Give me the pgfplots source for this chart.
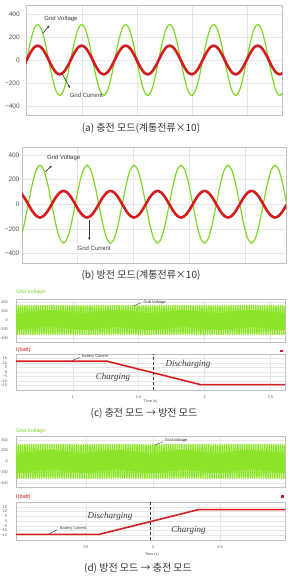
\documentclass[border=0pt]{standalone}
\usepackage{fontspec}
\setmainfont{Liberation Sans}
\newfontfamily\krfont{Noto Sans CJK KR}
\newfontfamily\timesfont{Liberation Serif}
\usepackage{pgfplots}
\pgfplotsset{compat=1.18}
\usepackage{pgfplotstable}
\usetikzlibrary{arrows.meta}

\definecolor{vgreen}{RGB}{126,214,38}
\definecolor{bandgreen}{RGB}{140,228,40}
\definecolor{ired}{RGB}{214,28,30}
\definecolor{tickgray}{RGB}{85,85,85}
\definecolor{annot}{RGB}{55,55,55}

\newcommand{\fs}[1]{\fontsize{#1}{#1}\selectfont}

% (a) charging mode: x in degrees, voltage V, current I (x10)
\pgfplotstableread[row sep=\\]{
x V I\\
-30 -155 -62.5\\
0 0 0\\ 30 155 62.5\\ 60 268.5 108.3\\ 90 310 125\\ 120 268.5 108.3\\ 150 155 62.5\\
180 0 0\\ 210 -155 -62.5\\ 240 -268.5 -108.3\\ 270 -310 -125\\ 300 -268.5 -108.3\\ 330 -155 -62.5\\
360 0 0\\ 390 155 62.5\\ 420 268.5 108.3\\ 450 310 125\\ 480 268.5 108.3\\ 510 155 62.5\\
540 0 0\\ 570 -155 -62.5\\ 600 -268.5 -108.3\\ 630 -310 -125\\ 660 -268.5 -108.3\\ 690 -155 -62.5\\
720 0 0\\ 750 155 62.5\\ 780 268.5 108.3\\ 810 310 125\\ 840 268.5 108.3\\ 870 155 62.5\\
900 0 0\\ 930 -155 -62.5\\ 960 -268.5 -108.3\\ 990 -310 -125\\ 1020 -268.5 -108.3\\ 1050 -155 -62.5\\
1080 0 0\\ 1110 155 62.5\\ 1140 268.5 108.3\\ 1170 310 125\\ 1200 268.5 108.3\\ 1230 155 62.5\\
1260 0 0\\ 1290 -155 -62.5\\ 1320 -268.5 -108.3\\ 1350 -310 -125\\ 1380 -268.5 -108.3\\ 1410 -155 -62.5\\
1440 0 0\\ 1470 155 62.5\\ 1500 268.5 108.3\\ 1530 310 125\\ 1560 268.5 108.3\\ 1590 155 62.5\\
1620 0 0\\ 1650 -155 -62.5\\ 1680 -268.5 -108.3\\ 1710 -310 -125\\ 1740 -268.5 -108.3\\ 1770 -155 -62.5\\
1800 0 0\\ 1830 155 62.5\\ 1860 268.5 108.3\\ 1890 310 125\\ 1920 268.5 108.3\\ 1950 155 62.5\\
1980 0 0\\ 2010 -155 -62.5\\ 2040 -268.5 -108.3\\ 2070 -310 -125\\ 2100 -268.5 -108.3\\ 2130 -155 -62.5\\
}\tabA

% (b) discharging mode
\pgfplotstableread[row sep=\\]{
x V I\\
-60 -275.4 93.5\\ -30 -159 54\\
0 0 0\\ 30 159 -54\\ 60 275.4 -93.5\\ 90 318 -108\\ 120 275.4 -93.5\\ 150 159 -54\\
180 0 0\\ 210 -159 54\\ 240 -275.4 93.5\\ 270 -318 108\\ 300 -275.4 93.5\\ 330 -159 54\\
360 0 0\\ 390 159 -54\\ 420 275.4 -93.5\\ 450 318 -108\\ 480 275.4 -93.5\\ 510 159 -54\\
540 0 0\\ 570 -159 54\\ 600 -275.4 93.5\\ 630 -318 108\\ 660 -275.4 93.5\\ 690 -159 54\\
720 0 0\\ 750 159 -54\\ 780 275.4 -93.5\\ 810 318 -108\\ 840 275.4 -93.5\\ 870 159 -54\\
900 0 0\\ 930 -159 54\\ 960 -275.4 93.5\\ 990 -318 108\\ 1020 -275.4 93.5\\ 1050 -159 54\\
1080 0 0\\ 1110 159 -54\\ 1140 275.4 -93.5\\ 1170 318 -108\\ 1200 275.4 -93.5\\ 1230 159 -54\\
1260 0 0\\ 1290 -159 54\\ 1320 -275.4 93.5\\ 1350 -318 108\\ 1380 -275.4 93.5\\ 1410 -159 54\\
1440 0 0\\ 1470 159 -54\\ 1500 275.4 -93.5\\ 1530 318 -108\\ 1560 275.4 -93.5\\ 1590 159 -54\\
1620 0 0\\ 1650 -159 54\\ 1680 -275.4 93.5\\ 1710 -318 108\\ 1740 -275.4 93.5\\ 1770 -159 54\\
1800 0 0\\ 1830 159 -54\\ 1860 275.4 -93.5\\ 1890 318 -108\\ 1920 275.4 -93.5\\ 1950 159 -54\\
1980 0 0\\
}\tabB

% battery currents
\pgfplotstableread[row sep=\\]{
t I\\ 0.57 12\\ 1.26 12\\ 1.97 -14\\ 2.61 -14\\
}\tabC
\pgfplotstableread[row sep=\\]{
t I\\ 1.978 -14\\ 2.60 -14\\ 3.34 12\\ 3.985 12\\
}\tabD

% grid voltage over the transition (sample index, volts at each half-cycle peak)
\pgfplotstableread[row sep=\\]{
i v\\
0 316\\ 1 -316\\ 2 316\\ 3 -316\\ 4 316\\ 5 -316\\ 6 316\\ 7 -316\\ 8 316\\ 9 -316\\
10 316\\ 11 -316\\ 12 316\\ 13 -316\\ 14 316\\ 15 -316\\ 16 316\\ 17 -316\\ 18 316\\ 19 -316\\
20 316\\ 21 -316\\ 22 316\\ 23 -316\\ 24 316\\ 25 -316\\ 26 316\\ 27 -316\\ 28 316\\ 29 -316\\
30 316\\ 31 -316\\ 32 316\\ 33 -316\\ 34 316\\ 35 -316\\ 36 316\\ 37 -316\\ 38 316\\ 39 -316\\
40 316\\ 41 -316\\ 42 316\\ 43 -316\\ 44 316\\ 45 -316\\ 46 316\\ 47 -316\\ 48 316\\ 49 -316\\
50 316\\ 51 -316\\ 52 316\\ 53 -316\\ 54 316\\ 55 -316\\ 56 316\\ 57 -316\\ 58 316\\ 59 -316\\
60 316\\ 61 -316\\ 62 316\\ 63 -316\\ 64 316\\ 65 -316\\ 66 316\\ 67 -316\\ 68 316\\ 69 -316\\
70 316\\ 71 -316\\ 72 316\\ 73 -316\\ 74 316\\ 75 -316\\ 76 316\\ 77 -316\\ 78 316\\ 79 -316\\
80 316\\ 81 -316\\ 82 316\\ 83 -316\\ 84 316\\ 85 -316\\ 86 316\\ 87 -316\\ 88 316\\ 89 -316\\
90 316\\ 91 -316\\ 92 316\\ 93 -316\\ 94 316\\ 95 -316\\ 96 316\\ 97 -316\\ 98 316\\ 99 -316\\
100 316\\ 101 -316\\ 102 316\\ 103 -316\\ 104 316\\ 105 -316\\ 106 316\\ 107 -316\\ 108 316\\ 109 -316\\
110 316\\ 111 -316\\ 112 316\\ 113 -316\\ 114 316\\ 115 -316\\ 116 316\\ 117 -316\\ 118 316\\ 119 -316\\
120 316\\ 121 -316\\ 122 316\\ 123 -316\\ 124 316\\ 125 -316\\ 126 316\\ 127 -316\\ 128 316\\ 129 -316\\
130 316\\ 131 -316\\ 132 316\\ 133 -316\\ 134 316\\ 135 -316\\ 136 316\\ 137 -316\\ 138 316\\ 139 -316\\
140 316\\ 141 -316\\ 142 316\\ 143 -316\\ 144 316\\ 145 -316\\ 146 316\\ 147 -316\\ 148 316\\ 149 -316\\
150 316\\ 151 -316\\ 152 316\\ 153 -316\\ 154 316\\ 155 -316\\ 156 316\\ 157 -316\\ 158 316\\ 159 -316\\
160 316\\ 161 -316\\ 162 316\\ 163 -316\\ 164 316\\ 165 -316\\ 166 316\\ 167 -316\\ 168 316\\ 169 -316\\
170 316\\ 171 -316\\ 172 316\\ 173 -316\\ 174 316\\ 175 -316\\ 176 316\\ 177 -316\\ 178 316\\ 179 -316\\
180 316\\ 181 -316\\ 182 316\\ 183 -316\\ 184 316\\ 185 -316\\ 186 316\\ 187 -316\\ 188 316\\ 189 -316\\
190 316\\ 191 -316\\ 192 316\\ 193 -316\\ 194 316\\ 195 -316\\ 196 316\\ 197 -316\\ 198 316\\ 199 -316\\
200 316\\ 201 -316\\ 202 316\\ 203 -316\\ 204 316\\ 205 -316\\ 206 316\\ 207 -316\\ 208 316\\ 209 -316\\
210 316\\ 211 -316\\ 212 316\\ 213 -316\\ 214 316\\ 215 -316\\ 216 316\\ 217 -316\\ 218 316\\ 219 -316\\
220 316\\ 221 -316\\ 222 316\\ 223 -316\\ 224 316\\ 225 -316\\ 226 316\\ 227 -316\\ 228 316\\ 229 -316\\
230 316\\ 231 -316\\ 232 316\\ 233 -316\\ 234 316\\ 235 -316\\ 236 316\\ 237 -316\\ 238 316\\ 239 -316\\
240 316\\
}\tabZ

\pgfplotsset{
  base/.style={scale only axis, anchor=north west, clip=true,
    axis line style={gray!50, line width=0.4pt},
    grid=major, major grid style={gray!20, line width=0.3pt},
    tick style={draw=none},
    tick label style={text=tickgray}},
  big/.style={base, yticklabel style={font=\fs{6.5}},
    ytick={-400,-200,0,200,400}, yticklabels={−400,−200,0,200,400}, xticklabels={}},
  smallv/.style={base, width=269pt, yticklabel style={font=\fs{3.8}, xshift=-4.7pt},
    ytick={-400,-200,0,200,400}, yticklabels={−400,−200,0,200,400},
    xticklabels={}, xmin=0, xmax=240},
  smallb/.style={base, width=269pt, yticklabel style={font=\fs{3.8}, xshift=-5.5pt},
    xticklabel style={font=\fs{3.8}, yshift=-2.5pt},
    ytick={-15,-10,...,15}, yticklabels={−15,−10,−5,0,5,10,15}, ymin=-20, ymax=20},
}

\begin{document}
\begin{tikzpicture}
\useasboundingbox (0,0) rectangle (287pt,-576pt);

% ---------- (a) ----------
\begin{axis}[big, at={(26pt,-5pt)}, width=256pt, height=110pt,
  xmin=-5.7, xmax=2088.8, ymin=-478, ymax=478,
  xtick={450,900,1350,1800}, yticklabel style={xshift=-2.8pt}]
\addplot[vgreen, line width=1.2pt, smooth] table[x=x,y=V]{\tabA};
\addplot[ired, line width=2.6pt, smooth] table[x=x,y=I]{\tabA};
\end{axis}
\node[font=\fs{6}, text=annot] at (61pt,-19pt) {Grid Voltage};
\draw[annot, line width=0.7pt, -{Stealth[length=2.6pt,width=2.4pt]}] (43pt,-33pt) -- (49.5pt,-25.5pt);
\node[font=\fs{6}, text=annot] at (86.3pt,-95pt) {Grid Current};
\draw[annot, line width=0.7pt, -{Stealth[length=2.6pt,width=2.4pt]}] (62pt,-73.5pt) -- (70pt,-88pt);
\node[font=\krfont\fs{10}, text=black!80] at (141pt,-128pt) {(a) 충전 모드(계통전류×10)};

% ---------- (b) ----------
\begin{axis}[big, at={(22pt,-146.7pt)}, width=264pt, height=116pt,
  xmin=-47.9, xmax=1974, ymin=-476, ymax=468,
  xtick={376,804,1232,1660}, yticklabel style={xshift=0.9pt}]
\addplot[vgreen, line width=1.2pt, smooth] table[x=x,y=V]{\tabB};
\addplot[ired, line width=2.6pt, smooth] table[x=x,y=I]{\tabB};
\end{axis}
\node[font=\fs{6}, text=annot] at (63.7pt,-158.3pt) {Grid Voltage};
\draw[annot, line width=0.7pt, -{Stealth[length=2.6pt,width=2.4pt]}] (45.3pt,-171.7pt) -- (51.7pt,-165.7pt);
\node[font=\fs{6}, text=annot] at (94.2pt,-248.3pt) {Grid Current};
\draw[annot, line width=0.7pt, -{Stealth[length=2.6pt,width=2.4pt]}] (89.3pt,-220pt) -- (89.3pt,-240pt);
\node[font=\krfont\fs{10}, text=black!80] at (141pt,-275pt) {(b) 방전 모드(계통전류×10)};

% ---------- (c) ----------
\node[font=\fs{5.3}, text=vgreen, anchor=west, inner sep=0pt] at (16pt,-292.3pt) {Grid Voltage};
\begin{axis}[smallv, at={(16pt,-299pt)}, height=42.7pt, ymin=-474, ymax=459,
  xtick={50.6,109.4,168.2,227.1}]
\addplot[bandgreen, line width=1.4pt, line join=round] table[x=i,y=v]{\tabZ};
\end{axis}
\node[font=\fs{4}, text=annot, anchor=west, inner sep=0pt] at (143.3pt,-302.7pt) {Grid Voltage};
\draw[annot, line width=0.4pt] (133.3pt,-306pt) -- (141pt,-302.7pt);
\node[font=\fs{5.5}, text=ired, anchor=west, inner sep=0pt] at (16pt,-349.7pt) {I(batt)};
\fill[ired] (280.4pt,-349.7pt) rectangle (283pt,-352.3pt);
\begin{axis}[smallb, at={(16pt,-354pt)}, height=36pt, xmin=0.57, xmax=2.61,
  xtick={1,1.5,2,2.5}, xticklabels={1,1.5,2,2.5}]
\addplot[ired, line width=1.6pt] table[x=t,y=I]{\tabC};
\addplot[annot, densely dashed, line width=0.5pt] coordinates {(1.61,-20) (1.61,20)};
\end{axis}
\node[font=\fs{3.8}, text=annot, anchor=west, inner sep=0pt] at (82pt,-356.7pt) {Battery Current};
\draw[annot, line width=0.4pt] (71.7pt,-360.7pt) -- (80pt,-357.3pt);
\node[font=\timesfont\itshape\fs{9}, text=annot] at (188pt,-364.3pt) {Discharging};
\node[font=\timesfont\itshape\fs{9}, text=annot] at (113pt,-377.7pt) {Charging};
\node[font=\fs{3.8}, text=tickgray] at (150.5pt,-401.7pt) {Time (s)};
\node[font=\krfont\fs{10}, text=black!80] at (144pt,-413.3pt) {(c) 충전 모드 → 방전 모드};

% ---------- (d) ----------
\node[font=\fs{5.3}, text=vgreen, anchor=west, inner sep=0pt] at (16pt,-430.8pt) {Grid Voltage};
\begin{axis}[smallv, at={(16pt,-436pt)}, height=50.7pt, ymin=-475, ymax=475,
  xtick={62.4,122.2,182.0}]
\addplot[bandgreen, line width=1.4pt, line join=round] table[x=i,y=v]{\tabZ};
\end{axis}
\node[font=\fs{4}, text=annot, anchor=west, inner sep=0pt] at (165pt,-440.7pt) {Grid Voltage};
\draw[annot, line width=0.4pt] (155pt,-445pt) -- (163pt,-441.7pt);
\node[font=\fs{5.5}, text=ired, anchor=west, inner sep=0pt] at (16pt,-497.3pt) {I(batt)};
\fill[ired] (281.4pt,-495.4pt) rectangle (284pt,-498pt);
\begin{axis}[smallb, at={(16pt,-502pt)}, height=38pt, xmin=1.978, xmax=3.985,
  xtick={2.5,3,3.5}, xticklabels={2.5,3,3.5}]
\addplot[ired, line width=1.6pt] table[x=t,y=I]{\tabD};
\addplot[annot, densely dashed, line width=0.5pt] coordinates {(2.98,-20) (2.98,20)};
\end{axis}
\node[font=\fs{3.8}, text=annot, anchor=west, inner sep=0pt] at (60pt,-529pt) {Battery Current};
\draw[annot, line width=0.4pt] (49pt,-534pt) -- (57pt,-529.7pt);
\node[font=\timesfont\itshape\fs{9}, text=annot] at (110pt,-516pt) {Discharging};
\node[font=\timesfont\itshape\fs{9}, text=annot] at (188.5pt,-530pt) {Charging};
\node[font=\fs{3.8}, text=tickgray] at (152pt,-555pt) {Time (s)};
\node[font=\krfont\fs{10}, text=black!80] at (138pt,-568.3pt) {(d) 방전 모드 → 충전 모드};
\end{tikzpicture}
\end{document}
